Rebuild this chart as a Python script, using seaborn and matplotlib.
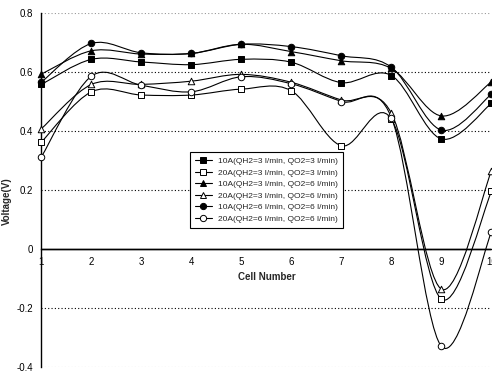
import numpy as np
import matplotlib
matplotlib.use("Agg")
import matplotlib.pyplot as plt
from matplotlib.path import Path
from matplotlib.patches import PathPatch
from matplotlib.lines import Line2D
import seaborn as sns

cells = [1, 2, 3, 4, 5, 6, 7, 8, 9, 10]

v_10a_h3_o3 = [0.558, 0.643, 0.634, 0.625, 0.643, 0.633, 0.564, 0.588, 0.373, 0.494]
v_20a_h3_o3 = [0.363, 0.533, 0.522, 0.522, 0.542, 0.536, 0.350, 0.440, -0.170, 0.195]
v_10a_h3_o6 = [0.593, 0.672, 0.661, 0.663, 0.694, 0.669, 0.638, 0.612, 0.451, 0.567]
v_20a_h3_o6 = [0.408, 0.558, 0.558, 0.569, 0.592, 0.565, 0.505, 0.460, -0.136, 0.265]
v_10a_h6_o6 = [0.566, 0.697, 0.665, 0.663, 0.694, 0.686, 0.655, 0.616, 0.403, 0.525]
v_20a_h6_o6 = [0.313, 0.586, 0.555, 0.533, 0.584, 0.560, 0.500, 0.445, -0.330, 0.058]

labels = [
    "10A(QH2=3 l/min, QO2=3 l/min)",
    "20A(QH2=3 l/min, QO2=3 l/min)",
    "10A(QH2=3 l/min, QO2=6 l/min)",
    "20A(QH2=3 l/min, QO2=6 l/min)",
    "10A(QH2=6 l/min, QO2=6 l/min)",
    "20A(QH2=6 l/min, QO2=6 l/min)",
]
series = [v_10a_h3_o3, v_20a_h3_o3, v_10a_h3_o6, v_20a_h3_o6, v_10a_h6_o6, v_20a_h6_o6]
markers = ["s", "s", "^", "^", "o", "o"]
faces = ["black", "white", "black", "white", "black", "white"]


def smooth_path(xs, ys):
    # excel-like smoothed line: catmull-rom segments as cubic beziers
    pts = np.column_stack([xs, ys]).astype(float)
    ext = np.vstack([pts[0], pts, pts[-1]])
    verts = [pts[0]]
    codes = [Path.MOVETO]
    for i in range(len(pts) - 1):
        p0, p1, p2, p3 = ext[i], ext[i + 1], ext[i + 2], ext[i + 3]
        verts += [p1 + (p2 - p0) / 6, p2 - (p3 - p1) / 6, p2]
        codes += [Path.CURVE4] * 3
    return Path(verts, codes)


sns.set_style("white")
plt.rcParams["font.family"] = ["Liberation Sans", "DejaVu Sans"]

fig = plt.figure(figsize=(4.92, 3.74), dpi=100)
ax = fig.add_axes([0.0843, 0.0187, 0.9146, 0.9465])

for y in [0.8, 0.6, 0.4, 0.2, -0.2, -0.4]:
    col = "#999999" if y in (0.8, -0.4) else "black"
    ax.axhline(y, color=col, lw=0.8, ls=(0, (1, 2)), zorder=1)
ax.axhline(0, color="black", lw=1.0, zorder=1)

handles = []
for vals, mk, fc, lab in zip(series, markers, faces, labels):
    ax.add_patch(PathPatch(smooth_path(cells, vals), fill=False, edgecolor="black", lw=0.8, zorder=2))
    sns.scatterplot(x=cells, y=vals, marker=mk, s=22, color=fc, edgecolor="black",
                    linewidth=0.7, ax=ax, zorder=3, clip_on=False)
    handles.append(Line2D([0], [0], color="black", lw=0.8, marker=mk, markersize=4.5,
                          markerfacecolor=fc, markeredgecolor="black", markeredgewidth=0.7))

ax.set_xlim(1, 10)
ax.set_ylim(-0.4, 0.8)
ax.set_xticks(cells)
ax.set_yticks([-0.4, -0.2, 0, 0.2, 0.4, 0.6, 0.8])
ax.set_yticklabels(["-0.4", "-0.2", "0", "0.2", "0.4", "0.6", "0.8"])

ax.spines["top"].set_visible(False)
ax.spines["right"].set_visible(False)
ax.spines["bottom"].set_position(("data", 0))
ax.spines["bottom"].set_linewidth(1.0)
ax.spines["left"].set_linewidth(1.0)
ax.spines["left"].set_color("black")
ax.spines["bottom"].set_color("black")

ax.tick_params(axis="x", direction="in", length=3, width=0.8, pad=6, labelsize=7, colors="black")
ax.tick_params(axis="y", direction="in", length=3, width=0.8, pad=6, labelsize=7, colors="black")

ax.set_xlabel("Cell Number", fontsize=7, fontweight="bold", labelpad=3)
ax.set_ylabel("Voltage(V)", fontsize=7, fontweight="bold")
ax.yaxis.set_label_coords(-0.065, 0.47)

leg = ax.legend(handles, labels, loc="upper left", bbox_to_anchor=(0.33, 0.607),
                borderaxespad=0, fontsize=6, frameon=True, fancybox=False,
                handlelength=2.0, handletextpad=0.8, labelspacing=0.45,
                borderpad=0.6, edgecolor="black", framealpha=1)
leg.get_frame().set_linewidth(0.8)
leg.set_zorder(5)

fig.savefig("out.png", dpi=100)
